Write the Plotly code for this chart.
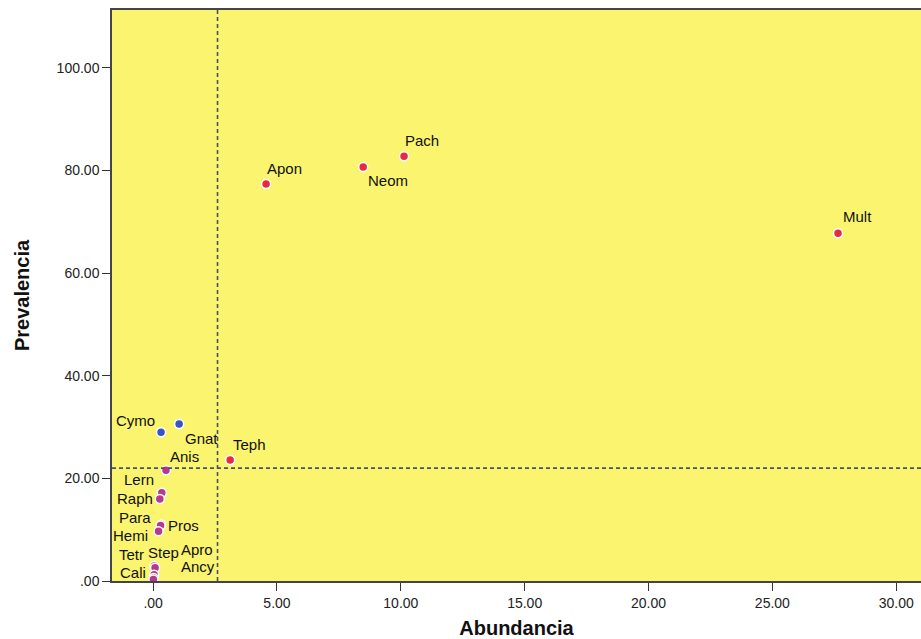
import plotly.graph_objects as go

# Parasite taxa: mean abundance vs prevalence (%)
taxa = ["Pach", "Neom", "Apon", "Mult", "Teph", "Cymo", "Gnat", "Anis", "Lern",
        "Raph", "Para", "Pros", "Hemi", "Tetr", "Step", "Apro", "Ancy", "Cali"]
abundancia = [10.13, 8.48, 4.56, 27.65, 3.11, 0.32, 1.05, 0.52, 0.35,
              0.27, 0.32, 0.30, 0.22, 0.05, 0.08, 0.04, 0.02, 0.01]
prevalencia = [82.8, 80.7, 77.4, 67.8, 23.6, 29.0, 30.6, 21.6, 17.2,
               16.0, 11.0, 10.8, 9.7, 2.9, 2.6, 1.2, 0.6, 0.3]
grupo = ["core", "core", "core", "core", "core", "sec", "sec", "rare", "rare",
         "rare", "rare", "rare", "rare", "rare", "rare", "rare", "rare", "rare"]

# Reference cut-off lines
corte_abundancia = 2.6
corte_prevalencia = 22.0

x_ticks = [0, 5, 10, 15, 20, 25, 30]
x_ticktext = [".00", "5.00", "10.00", "15.00", "20.00", "25.00", "30.00"]
y_ticks = [0, 20, 40, 60, 80, 100]
y_ticktext = [".00", "20.00", "40.00", "60.00", "80.00", "100.00"]

group_colors = {"core": "#e62a42", "sec": "#3753c4", "rare": "#b9388e"}

# Label offsets in pixels (dx, dy)
label_offsets = {
    "Pach": (18, 16), "Neom": (25, -14), "Apon": (18, 15),
    "Mult": (19, 17), "Teph": (19, 15), "Cymo": (-26, 12),
    "Gnat": (22, -14), "Anis": (18, 14), "Lern": (-23, 13),
    "Raph": (-25, 0), "Para": (-26, 7), "Pros": (23, 0),
    "Hemi": (-28, -4), "Tetr": (-23, 12), "Step": (8, 15),
    "Apro": (43, 25), "Ancy": (44, 11), "Cali": (-20, 7),
}

fig = go.Figure()

for g in ["rare", "sec", "core"]:
    xs = [a for a, gg in zip(abundancia, grupo) if gg == g]
    ys = [p for p, gg in zip(prevalencia, grupo) if gg == g]
    fig.add_trace(go.Scatter(
        x=xs, y=ys, mode="markers",
        marker=dict(size=9, color=group_colors[g], line=dict(color="white", width=1.5)),
        cliponaxis=False, showlegend=False, hoverinfo="skip",
    ))

for name, a, p in zip(taxa, abundancia, prevalencia):
    dx, dy = label_offsets[name]
    fig.add_annotation(
        x=a, y=p, text=name, showarrow=False, xshift=dx, yshift=dy,
        xanchor="center", yanchor="middle",
        font=dict(family="Liberation Sans, Arial", size=15, color="#111111"),
    )

dash_line = dict(color="#4a4f6e", width=1.6, dash="4px,3px")
fig.add_shape(type="line", xref="x", yref="paper", x0=corte_abundancia, x1=corte_abundancia,
              y0=0, y1=1, line=dash_line, layer="above")
fig.add_shape(type="line", xref="paper", yref="y", x0=0, x1=1,
              y0=corte_prevalencia, y1=corte_prevalencia, line=dash_line, layer="above")

axis_font = dict(family="Liberation Sans, Arial", size=14, color="#222222")
title_font = dict(family="Liberation Sans, Arial", size=20, color="#111111")

fig.update_layout(
    width=921, height=639,
    margin=dict(l=112, r=0, t=10, b=58),
    paper_bgcolor="white", plot_bgcolor="#faf46e",
    xaxis=dict(
        range=[-1.66, 31.0], tickvals=x_ticks, ticktext=x_ticktext,
        showgrid=False, zeroline=False, showline=True, linecolor="#444444", linewidth=1.5,
        ticks="outside", ticklen=8, tickcolor="#333333", tickfont=axis_font,
        title=dict(text="<b>Abundancia</b>", font=title_font, standoff=12),
        mirror=True,
    ),
    yaxis=dict(
        range=[0, 111.3], tickvals=y_ticks, ticktext=y_ticktext,
        showgrid=False, zeroline=False, showline=True, linecolor="#444444", linewidth=1.5,
        ticks="outside", ticklen=8, tickcolor="#333333", tickfont=axis_font,
        title=dict(text="<b>Prevalencia</b>", font=title_font, standoff=22),
    ),
)

fig.write_html("out.html")
